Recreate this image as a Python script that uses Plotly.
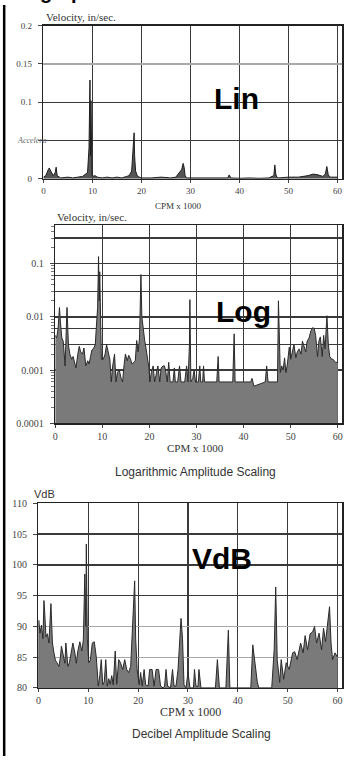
import plotly.graph_objects as go

W, H = 344, 761


def px(x):
    return x / W


def py(y):
    return 1 - y / H


# ---------------- data ----------------
CPM_TICKS = [0, 10, 20, 30, 40, 50, 60]
CPM_LABELS = ["0", "10", "20", "30", "40", "50", "60"]

# Linear panel (velocity, in/sec)
LIN_X = [0, 0.5, 1.0, 1.2, 1.5, 2.0, 2.4, 2.6, 2.8, 3.5, 5, 6, 7, 8, 9.0, 9.3,
         9.5, 9.6, 9.7, 9.8, 9.9, 10.1, 10.5, 11, 12, 13, 14, 15, 16, 17, 17.5,
         18.0, 18.3, 18.5, 18.6, 18.8, 19.2, 20, 22, 24, 26, 27, 28.2, 28.5,
         28.7, 28.9, 29.2, 30, 32, 34, 36, 37.6, 37.9, 38.2, 40, 42, 44, 46,
         47.0, 47.2, 47.4, 47.6, 48, 50, 52, 54, 55, 56, 57, 57.5, 57.8, 58.1,
         58.5, 60]
LIN_Y = [0.002, 0.004, 0.012, 0.014, 0.010, 0.004, 0.008, 0.015, 0.004, 0.001,
         0.002, 0.001, 0.002, 0.003, 0.008, 0.040, 0.129, 0.030, 0.102, 0.035,
         0.005, 0.003, 0.004, 0.002, 0.001, 0.002, 0.001, 0.002, 0.001, 0.003,
         0.004, 0.010, 0.045, 0.060, 0.030, 0.010, 0.003, 0.001, 0.001, 0.002,
         0.001, 0.002, 0.012, 0.020, 0.015, 0.004, 0.001, 0.001, 0.0005, 0.001,
         0.0005, 0.001, 0.005, 0.001, 0.0005, 0.001, 0.0005, 0.001, 0.004,
         0.018, 0.006, 0.002, 0.001, 0.002, 0.002, 0.004, 0.006, 0.005, 0.003,
         0.006, 0.016, 0.005, 0.002, 0.002]
LIN_YTICKS = [0, 0.05, 0.1, 0.15, 0.2]
LIN_YLABELS = ["0", "", "0.1", "0.15", "0.2"]

# Logarithmic panel (velocity, in/sec)
LOG_X = [0, 0.3, 0.6, 0.9, 1.1, 1.4, 1.7, 2.1, 2.5, 2.8, 3.1, 3.5, 3.8, 4.1,
         4.4, 4.8, 5.1, 5.4, 5.8, 6.1, 6.5, 6.9, 7.2, 7.5, 7.8, 8.2, 8.5, 8.8,
         9.0, 9.2, 9.35, 9.45, 9.6, 9.8, 10.2, 10.6, 10.9, 11.2, 11.6, 11.9,
         12.2, 12.6, 12.9, 13.2, 13.6, 14.0, 14.3, 14.6, 14.9, 15.3, 15.6,
         16.0, 16.3, 16.7, 17.0, 17.3, 17.6, 17.9, 18.2, 18.4, 18.6, 18.8,
         19.0, 19.3, 19.6, 19.9, 20.1, 20.4, 20.8, 21.1, 21.4, 21.8, 22.2,
         22.5, 22.9, 23.2, 23.5, 23.8, 24.1, 24.4, 25.0, 25.3, 25.5, 26.0,
         26.4, 26.7, 27.5, 27.9, 28.2, 28.5, 28.6, 28.8, 29.2, 29.5, 29.8,
         30.4, 30.7, 30.9, 31.3, 31.5, 31.7, 34.3, 34.6, 34.8, 37.7, 38.0,
         38.2, 41.5, 41.8, 42.2, 44.6, 44.9, 45.2, 47.2, 47.4, 47.6, 47.8,
         48.1, 48.4, 48.7, 49.0, 49.3, 49.7, 50.0, 50.4, 50.7, 51.1, 51.4,
         51.8, 52.2, 52.5, 52.8, 53.2, 53.5, 53.9, 54.3, 54.7, 55.0, 55.3,
         55.7, 56.0, 56.3, 56.7, 57.0, 57.3, 57.7, 58.0, 58.3, 58.7, 59.0,
         59.5, 60]
LOG_Y = [0.0045, 0.004, 0.006, 0.015, 0.008, 0.004, 0.0035, 0.0012, 0.015,
         0.003, 0.002, 0.0016, 0.0018, 0.0013, 0.0011, 0.002, 0.0028, 0.0022,
         0.002, 0.0026, 0.0012, 0.0015, 0.0013, 0.0018, 0.0024, 0.0026, 0.003,
         0.008, 0.015, 0.135, 0.02, 0.07, 0.005, 0.0016, 0.0016, 0.002, 0.003,
         0.0022, 0.0016, 0.0006, 0.0012, 0.002, 0.0006, 0.0009, 0.001, 0.0007,
         0.0006, 0.0012, 0.002, 0.0015, 0.0019, 0.0016, 0.0013, 0.0014, 0.0015,
         0.0036, 0.0022, 0.004, 0.062, 0.01, 0.0063, 0.0045, 0.0036, 0.0025,
         0.0018, 0.0011, 0.0006, 0.0009, 0.0012, 0.0006, 0.0008, 0.0012,
         0.0006, 0.0011, 0.0012, 0.0012, 0.0009, 0.0006, 0.0014, 0.0006,
         0.0006, 0.0011, 0.0006, 0.0006, 0.0012, 0.0006, 0.0006, 0.0012,
         0.0006, 0.003, 0.021, 0.0006, 0.0007, 0.001, 0.0006, 0.0006, 0.0012,
         0.0006, 0.0006, 0.0012, 0.0006, 0.0006, 0.0018, 0.0006, 0.0006,
         0.0048, 0.0006, 0.0006, 0.0007, 0.0005, 0.0006, 0.0012, 0.0006,
         0.0006, 0.02, 0.0035, 0.0009, 0.0012, 0.001, 0.0017, 0.0009, 0.0013,
         0.0027, 0.0016, 0.0022, 0.003, 0.0017, 0.0022, 0.0025, 0.002, 0.0035,
         0.0028, 0.0022, 0.0035, 0.004, 0.0055, 0.0063, 0.006, 0.0045, 0.0018,
         0.0035, 0.0042, 0.0018, 0.0045, 0.0025, 0.0105, 0.003, 0.0018, 0.0016,
         0.0016, 0.0014, 0.0014]
LOG_YTICKS = [0.0001, 0.001, 0.01, 0.1]
LOG_YLABELS = ["0.0001", "0.001", "0.01", "0.1"]
LOG_EXTRA_GRID = [0.3, 0.06, 0.03, 0.006, 0.003]

# Decibel panel (VdB)
VDB_X = [0, 0.05, 0.3, 0.6, 0.9, 1.1, 1.3, 1.5, 1.8, 2.1, 2.5, 2.8, 3.1, 3.4,
         3.7, 4.1, 4.4, 4.6, 5.0, 5.3, 5.5, 5.9, 6.2, 6.6, 6.9, 7.3, 7.6, 7.9,
         8.3, 8.7, 9.0, 9.3, 9.5, 9.6, 9.8, 10.1, 10.4, 10.8, 11.2, 11.6, 12.0,
         12.3, 12.6, 12.9, 13.2, 13.5, 13.8, 14.1, 14.4, 14.7, 15.0, 15.4,
         15.7, 16.1, 16.5, 16.9, 17.3, 17.7, 18.1, 18.5, 18.9, 19.3, 19.5,
         19.8, 20.2, 20.5, 20.8, 21.2, 21.5, 22.0, 22.3, 22.8, 23.2, 23.6,
         24.1, 24.5, 25.0, 25.3, 25.6, 25.9, 26.5, 26.9, 27.2, 27.6, 28.0,
         28.3, 28.6, 28.9, 29.2, 29.6, 30.0, 30.4, 31.1, 31.3, 31.6, 32.0,
         32.2, 32.6, 35.5, 35.9, 36.3, 37.6, 38.1, 38.4, 42.6, 43.0, 43.3,
         43.6, 43.9, 44.2, 46.8, 47.3, 47.6, 47.9, 48.4, 48.7, 49.2, 49.7,
         50.3, 51.0, 51.4, 51.9, 52.6, 53.1, 53.5, 54.0, 54.5, 55.0, 55.4,
         55.8, 56.3, 56.8, 57.2, 57.6, 58.0, 58.4, 58.7, 59.0, 59.5, 60]
VDB_Y = [80, 91, 88.9, 90.2, 88, 94.2, 91.5, 88.3, 88.8, 87.3, 93.7, 87.3,
         85.7, 84.5, 84.1, 83.5, 85, 86.8, 85.2, 84, 87.3, 83.5, 84.1, 85.7,
         87.3, 85.7, 84, 86, 87.5, 86, 87.8, 98.5, 90, 103.4, 88, 84.1, 84.5,
         87.3, 87.5, 85, 80.3, 82, 84.6, 80.5, 81, 84.6, 80.3, 81.5, 80.6, 82,
         80.5, 86, 80.6, 84.6, 84, 83, 84.6, 83, 82.5, 83.5, 90.5, 97.4, 88,
         83, 80.5, 82.5, 80.3, 83, 80.5, 80.3, 83, 83, 80.3, 83, 83, 80.3, 80,
         80.3, 83, 80.3, 80, 83, 80.3, 80.3, 83, 87, 91.3, 88, 80.5, 80, 82.5,
         80, 80, 83, 80.3, 80.2, 83, 80, 80, 84.6, 80, 80, 89.4, 80, 80, 87,
         85, 82.8, 81, 80, 80, 86.3, 96.4, 84.6, 80.9, 84.6, 81.4, 84.1, 83.0,
         85.7, 85.9, 84.6, 87.3, 85.7, 88.5, 86.2, 88.8, 89.1, 90.0, 87.3, 88.9,
         86.2, 89.7, 87.5, 90.5, 93.2, 87.3, 84.6, 85.7, 85]
VDB_YTICKS = [80, 85, 90, 95, 100, 105, 110]
VDB_YLABELS = ["80", "85", "90", "95", "100", "105", "110"]
VDB_DARK_GRID = [95, 100, 105]

# ---------------- styles ----------------
SERIF = "Liberation Serif, Times New Roman, serif"
SANS = "Liberation Sans, Arial, sans-serif"
DARK = "#3a3a3a"
LIGHT = "#a8a8a8"
FILL = "#7a7a7a"
X_RANGE = [0, 60.9]


def tickfont(size):
    return dict(family=SERIF, size=size, color="#444")


fig = go.Figure()
common = dict(mode="lines", fill="tozeroy", showlegend=False, hoverinfo="skip")
fig.add_trace(go.Scatter(x=LIN_X, y=LIN_Y, line=dict(color="#1e1e1e", width=1),
                         fillcolor="#555", xaxis="x", yaxis="y", **common))
fig.add_trace(go.Scatter(x=LOG_X, y=LOG_Y, line=dict(color="#2a2a2a", width=1),
                         fillcolor=FILL, xaxis="x2", yaxis="y2", **common))
fig.add_trace(go.Scatter(x=VDB_X, y=VDB_Y, line=dict(color="#2a2a2a", width=1),
                         fillcolor=FILL, xaxis="x3", yaxis="y3", **common))
# empty traces to materialise the overlay grid axes
fig.add_trace(go.Scatter(x=[], y=[], xaxis="x2", yaxis="y4", showlegend=False))
fig.add_trace(go.Scatter(x=[], y=[], xaxis="x3", yaxis="y5", showlegend=False))
fig.add_trace(go.Scatter(x=[], y=[], xaxis="x", yaxis="y6", showlegend=False))


def xax(left_px, yanchor, fsize):
    return dict(domain=[px(left_px), 1], range=X_RANGE, anchor=yanchor,
                tickvals=CPM_TICKS, ticktext=CPM_LABELS, tickfont=tickfont(fsize),
                ticklabeloverflow="allow",
                showgrid=True, gridcolor=DARK, gridwidth=1.3,
                showline=True, linecolor="#222", linewidth=1.5, mirror=True,
                ticks="outside", ticklen=3, tickcolor="#444", zeroline=False,
                fixedrange=True)


LOG_RANGE = [-4, -0.278]

fig.update_layout(
    width=W, height=H, autosize=False,
    margin=dict(l=0, r=0, t=0, b=0),
    paper_bgcolor="white", plot_bgcolor="white",
    xaxis=xax(41, "y", 9),
    yaxis=dict(domain=[py(176), py(21)], range=[0, 0.2], anchor="x",
               tickvals=LIN_YTICKS, ticktext=LIN_YLABELS, tickfont=tickfont(9),
               showgrid=True, gridcolor=DARK, gridwidth=1.3,
               showline=True, linecolor="#222", linewidth=1.5, mirror=True,
               ticks="outside", ticklen=4, tickcolor="#444",
               ticklabelstandoff=4, zeroline=False, fixedrange=True),
    yaxis6=dict(overlaying="y", anchor="x", range=[0, 0.2],
                tickvals=[0.15], showticklabels=False, showgrid=True,
                gridcolor=LIGHT, gridwidth=1.3, ticks="", showline=False,
                zeroline=False, fixedrange=True),
    xaxis2=xax(53, "y2", 10),
    yaxis2=dict(domain=[py(424), py(223)], type="log", range=LOG_RANGE,
                anchor="x2", tickvals=LOG_YTICKS, ticktext=LOG_YLABELS,
                tickfont=tickfont(10), showgrid=True, gridcolor=DARK,
                gridwidth=1.5, showline=True, linecolor="#222", linewidth=1.5,
                mirror=True, ticks="outside", ticklen=4, tickcolor="#444",
                ticklabelstandoff=4, zeroline=False, fixedrange=True,
                minor=dict(dtick="D1", ticks="outside", ticklen=3,
                           tickcolor="#777", showgrid=False)),
    yaxis4=dict(overlaying="y2", anchor="x2", type="log", range=LOG_RANGE,
                tickvals=LOG_EXTRA_GRID, showticklabels=False, showgrid=True,
                gridcolor=DARK, gridwidth=1.3, ticks="", showline=False,
                zeroline=False, fixedrange=True),
    xaxis3=xax(36, "y3", 10),
    yaxis3=dict(domain=[py(692), py(505)], range=[80, 110], anchor="x3",
                tickvals=VDB_YTICKS, ticktext=VDB_YLABELS, tickfont=tickfont(10),
                showgrid=True, gridcolor=LIGHT, gridwidth=1.3,
                showline=True, linecolor="#222", linewidth=1.5, mirror=True,
                ticks="outside", ticklen=4, tickcolor="#444",
                ticklabelstandoff=4, zeroline=False, fixedrange=True),
    yaxis5=dict(overlaying="y3", anchor="x3", range=[80, 110],
                tickvals=VDB_DARK_GRID, showticklabels=False, showgrid=True,
                gridcolor=DARK, gridwidth=1.5, ticks="", showline=False,
                zeroline=False, fixedrange=True),
)

ann = []


def text(x, y, s, size, family, color="#333", xanchor="center",
         yanchor="middle", bold=False, **kw):
    if bold:
        s = "<b>" + s + "</b>"
    ann.append(dict(x=px(x), y=py(y), xref="paper", yref="paper", text=s,
                    showarrow=False, xanchor=xanchor, yanchor=yanchor,
                    font=dict(size=size, family=family, color=color), **kw))


# panel 1
text(42, 12, "Velocity, in/sec.", 11, SERIF, xanchor="left")
text(178, 204, "CPM x 1000", 9, SERIF)
text(237, 95, "Lin", 30, SANS, color="#000", bold=True)
ann.append(dict(x=px(12), y=0.05, xref="paper", yref="y", text="<i>Accelera</i>",
                showarrow=False, xanchor="left", yanchor="middle",
                font=dict(size=8, family=SERIF, color="#666")))
# panel 2
text(53, 215, "Velocity, in/sec.", 11, SERIF, xanchor="left")
text(195, 449, "CPM x 1000", 11, SERIF)
text(244, 311, "Log", 30, SANS, color="#000", bold=True)
text(195, 473, "Logarithmic Amplitude Scaling", 12, SANS)
# panel 3
text(29, 496, "VdB", 11, SANS, xanchor="left")
text(190, 716, "CPM x 1000", 12, SERIF)
text(222, 561, "VdB", 30, SANS, color="#000", bold=True)
text(201, 739, "Decibel Amplitude Scaling", 12, SANS)
# clipped heading at the very top
text(66, -13, "graph", 20, SANS, color="#000", bold=True)

fig.update_layout(annotations=ann)
fig.add_shape(type="line", xref="paper", yref="paper", x0=px(1.2), x1=px(1.2),
              y0=0, y1=1, line=dict(color="#000", width=2.5))

fig.write_html(
    "out.html",
    config=dict(displayModeBar=False, staticPlot=True),
    post_script=("document.documentElement.style.margin='0';"
                 "document.body.style.margin='0';"
                 "document.body.style.overflow='hidden';"),
)
